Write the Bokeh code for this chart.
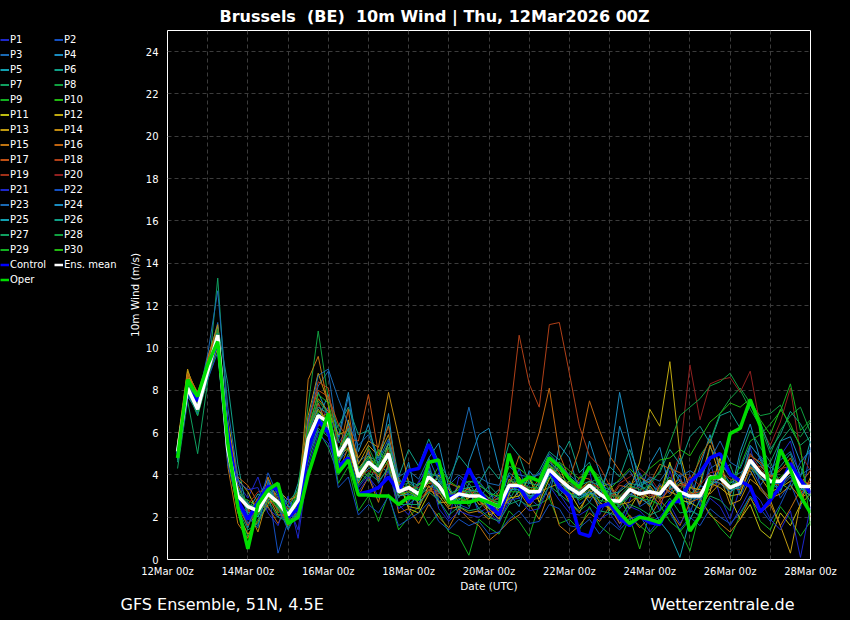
from bokeh.plotting import figure
from bokeh.models import FixedTicker, Legend, LegendItem, Range1d, CustomJS, Label
from bokeh.layouts import row, column
from bokeh.embed import file_html
from bokeh.resources import INLINE
from bokeh.io import curdoc

# ---------------- data ----------------
NBSP = "\u00a0"
title_text = "Brussels " + NBSP + "(BE) " + NBSP + "10m Wind | Thu, 12Mar2026 00Z"
left_note = "GFS Ensemble, 51N, 4.5E"
right_note = "Wetterzentrale.de"
x_tick_days = [0, 2, 4, 6, 8, 10, 12, 14, 16]
x_tick_labels = ["12Mar 00z", "14Mar 00z", "16Mar 00z", "18Mar 00z", "20Mar 00z",
                 "22Mar 00z", "24Mar 00z", "26Mar 00z", "28Mar 00z"]
y_ticks = [0, 2, 4, 6, 8, 10, 12, 14, 16, 18, 20, 22, 24]
step_hours = 6
n_steps = 64
lead_days = [(i + 1) * step_hours / 24 for i in range(n_steps)]

p01 = [5.0,8.2,7.4,8.7,10.1,6.1,3.6,2.9, 3.9,2.4,2.0,2.6,1.4,4.8,6.3,7.2, 5.5,6.2,3.4,4.0,2.9,4.5,2.6,2.1, 3.6,4.6,2.8,1.9,3.9,3.4,2.2,2.5, 1.8,3.0,4.3,2.9,2.5,4.9,3.1,2.4, 3.7,4.2,2.1,3.1,1.7,2.8,4.1,3.4, 2.3,4.2,2.7,4.0,2.5,4.6,3.0,1.9, 3.4,5.3,3.5,2.6,4.9,5.6,3.8,3.1]
p02 = [5.3,7.9,6.9,9.1,10.8,5.0,2.6,2.0, 1.6,3.4,0.3,1.8,2.5,5.9,7.4,6.0, 4.6,5.2,4.1,5.1,3.8,5.6,3.9,3.0, 2.7,3.2,4.1,3.0,2.6,2.4,3.7,3.1, 2.8,4.0,2.9,3.6,4.1,3.5,4.6,3.9, 2.6,3.0,3.8,2.4,3.3,3.7,2.5,2.8, 3.6,3.1,4.0,2.2,3.5,3.3,4.4,4.1, 3.0,4.0,4.9,4.3,2.9,3.6,2.4,5.3]
p03 = [4.9,8.4,7.6,9.3,11.2,5.6,3.2,2.7, 2.1,3.6,2.9,1.7,3.1,6.4,8.2,8.9, 5.6,7.7,4.6,5.0,3.6,4.4,2.9,3.7, 3.3,4.2,3.1,3.4,5.2,7.2,5.1,3.3, 2.2,3.4,3.8,2.7,3.5,4.0,3.3,2.9, 3.4,2.7,3.5,3.3,2.4,3.0,3.6,3.8, 2.9,3.3,3.7,3.5,2.8,4.3,4.6,3.9, 4.1,4.4,3.5,4.2,3.4,3.9,3.0,3.6]
p04 = [5.2,7.7,7.0,8.8,10.4,4.6,2.8,1.5, 2.9,3.8,2.4,2.9,1.9,5.2,6.6,7.8, 5.8,7.9,5.1,6.4,4.4,6.9,3.2,4.6, 2.4,4.8,5.5,3.4,2.1,4.6,5.9,6.2, 4.3,3.1,2.5,4.2,3.6,2.9,5.4,4.8, 3.2,5.6,4.1,2.8,6.3,4.9,3.1,4.5, 5.3,3.3,4.8,2.6,4.4,5.9,4.2,3.0, 5.1,6.4,4.7,3.9,5.6,5.8,4.6,5.2]
p05 = [4.7,8.3,7.3,9.0,10.9,5.4,3.3,2.3, 3.1,2.8,3.4,2.2,3.6,6.0,7.9,6.8, 4.4,6.5,3.8,4.3,4.5,4.1,3.6,2.6, 3.0,3.4,3.7,3.1,2.8,3.2,2.4,2.9, 3.3,2.6,3.3,2.8,3.7,4.4,3.9,3.0, 2.9,3.2,2.6,3.4,2.9,3.4,2.7,3.6, 3.2,3.8,2.9,2.6,3.2,3.5,4.3,3.6, 3.9,5.0,4.5,3.8,3.3,4.5,3.9,5.6]
p06 = [4.6,8.6,7.7,9.2,11.0,8.3,4.5,2.1, 2.6,3.0,2.6,1.5,2.2,5.5,6.9,5.8, 6.3,7.2,5.9,6.1,4.8,6.4,3.9,5.2, 4.4,5.7,4.6,3.8,4.9,4.3,3.6,4.4, 3.8,5.5,4.9,3.6,4.2,5.1,4.7,5.6, 4.1,4.6,3.2,4.4,3.9,5.2,4.0,3.3, 2.9,4.5,3.7,3.1,3.4,5.3,4.6,4.0, 3.6,5.4,4.8,3.9,4.4,5.0,3.6,2.7]
p07 = [4.3,7.5,5.0,8.4,13.3,6.4,2.3,1.1, 1.9,2.5,3.0,2.7,3.3,4.6,6.1,5.3, 4.0,5.0,4.2,3.7,4.6,4.8,3.3,2.8, 3.1,4.5,2.6,3.5,2.4,3.6,2.9,3.5, 3.0,2.8,3.6,3.1,3.4,4.3,3.0,3.6, 3.3,3.6,3.9,2.1,2.6,3.2,3.8,2.6, 3.4,3.5,2.6,3.6,3.0,3.7,4.1,4.5, 3.1,4.3,3.9,4.6,3.6,3.3,4.4,3.0]
p08 = [5.0,8.5,7.6,9.0,10.7,5.7,3.1,2.5, 2.0,3.3,2.5,2.0,3.4,7.3,10.8,7.6, 6.2,5.4,3.7,5.3,4.3,4.9,3.5,3.3, 2.8,3.7,3.8,3.0,3.4,2.5,3.3,2.9, 2.6,3.7,3.9,3.3,3.0,4.5,4.0,3.1, 3.0,3.3,3.3,3.2,2.5,3.5,3.0,3.4, 3.0,3.6,3.5,3.3,4.9,5.6,6.9,7.6, 8.1,7.4,6.8,6.9,7.3,6.2,5.8,6.5]
p09 = [4.9,8.0,6.8,8.5,10.0,4.8,2.4,1.9, 2.8,3.5,2.2,2.5,2.6,5.3,6.5,6.3, 3.6,4.4,2.3,3.0,1.8,3.1,1.4,2.0, 2.5,1.6,2.2,1.3,1.1,0.2,1.9,1.5, 1.2,2.3,1.8,1.1,2.6,2.9,1.7,1.9, 1.4,2.5,1.6,1.2,0.9,2.0,1.6,1.2, 1.7,2.4,1.3,1.9,2.8,2.2,1.5,1.0, 2.1,3.0,1.8,1.4,2.5,1.9,1.1,1.8]
p10 = [5.1,8.1,7.2,9.4,10.5,5.1,3.0,2.8, 2.5,2.9,3.1,2.3,2.9,5.8,7.0,6.6, 4.9,6.0,4.0,4.8,4.4,5.1,3.3,3.5, 3.2,4.0,3.4,2.9,3.2,3.1,3.1,2.8, 2.7,3.6,3.6,3.3,3.3,4.4,3.9,3.5, 3.1,3.4,3.2,2.7,2.9,2.0,0.5,2.2, 3.3,3.9,3.1,3.0,3.1,3.9,4.0,3.5, 3.7,4.7,4.2,3.6,3.9,4.3,3.5,3.4]
p11 = [5.4,8.8,7.5,9.2,10.3,6.6,3.8,3.2, 2.2,2.7,2.8,1.9,2.7,5.6,6.7,6.9, 5.0,5.6,4.3,4.9,4.1,5.5,3.8,2.4, 2.2,3.1,4.0,3.3,2.7,2.9,3.5,2.1, 2.3,2.9,3.0,3.9,2.7,3.8,4.4,3.2, 2.4,3.1,3.6,2.3,3.0,2.4,3.2,2.9, 3.1,4.6,2.8,2.7,2.4,3.2,4.8,2.9, 1.9,2.6,1.4,1.0,2.2,1.6,2.6,3.1]
p12 = [5.2,8.9,7.8,9.1,10.6,5.3,2.9,2.6, 2.4,3.2,2.6,2.4,2.3,6.1,7.1,6.4, 4.8,5.3,3.6,4.5,3.9,4.7,3.0,3.2, 2.9,4.1,3.2,2.5,3.0,3.4,2.6,2.7, 2.2,3.8,3.4,3.1,3.6,4.2,3.4,3.7, 3.5,2.9,3.4,3.6,2.7,3.3,4.6,7.1, 6.3,9.35,5.0,3.2,2.9,3.6,3.4,3.0, 3.1,4.4,3.9,3.2,3.4,3.7,3.8,3.5]
p13 = [5.5,9.0,7.4,8.8,10.0,4.9,2.2,1.2, 1.8,2.6,3.3,2.8,3.0,6.8,8.8,7.4, 4.5,6.6,4.5,5.4,4.9,5.9,3.6,2.5, 2.4,3.5,2.7,2.7,3.5,2.7,2.8,2.4, 1.9,3.1,3.9,2.8,2.9,4.5,3.8,3.0, 3.3,3.7,2.7,2.4,3.2,3.6,2.6,3.5, 2.9,3.0,3.6,3.4,3.3,3.1,3.6,3.3, 3.9,4.2,3.3,2.8,1.6,0.3,2.7,3.9]
p14 = [5.3,8.6,7.1,9.5,11.1,5.9,3.5,2.4, 1.3,3.0,2.1,2.1,2.0,5.7,7.6,7.0, 5.9,6.1,4.8,5.6,5.3,7.9,5.8,3.6, 2.6,3.3,3.0,2.4,2.5,2.2,2.3,1.9, 2.6,2.7,3.2,2.5,3.2,3.4,3.6,2.7, 2.2,3.3,2.4,2.9,2.6,2.7,3.1,2.5, 3.5,3.2,3.0,2.8,3.6,5.4,3.9,2.6, 2.8,3.8,3.4,2.9,3.1,3.5,2.9,3.2]
p15 = [5.0,8.7,7.0,9.6,10.8,4.4,1.7,1.0, 2.3,3.9,2.7,1.6,2.4,8.5,9.6,7.3, 4.1,5.3,3.0,3.9,2.7,4.6,2.2,2.4, 1.7,2.6,2.0,1.5,2.4,1.9,1.6,0.9, 1.3,1.8,2.1,2.6,1.9,3.2,1.6,1.2, 1.6,2.2,1.8,2.5,1.7,2.1,1.5,2.0, 2.8,2.3,1.6,2.7,2.9,2.1,1.7,1.3, 1.9,2.9,2.2,2.6,1.6,2.4,3.3,2.0]
p16 = [5.4,8.8,7.9,9.3,10.9,6.3,3.9,3.5, 2.7,2.5,1.7,2.6,3.2,6.2,7.4,6.2, 4.9,7.1,4.0,5.2,3.7,5.3,3.2,3.3, 3.2,3.6,3.5,2.9,3.1,3.0,2.9,2.7, 2.9,3.5,4.9,4.5,6.0,8.1,5.0,3.8, 5.2,7.5,6.1,4.9,4.2,3.5,3.9,3.6, 4.5,4.3,4.1,3.7,4.7,5.7,4.4,3.1, 3.8,4.9,4.6,3.9,4.2,4.8,3.6,4.2]
p17 = [5.1,8.3,7.3,8.9,10.5,5.5,2.5,1.6, 2.6,3.1,2.3,2.2,2.9,6.6,8.0,7.7, 6.4,5.7,5.6,7.8,5.0,6.3,3.7,3.2, 3.6,3.4,3.2,3.6,3.4,3.3,2.8,2.2, 2.4,3.3,3.7,3.2,3.8,4.7,4.1,2.8, 3.9,3.8,3.3,2.8,3.5,3.4,2.7,3.2, 2.6,3.5,3.8,3.1,3.2,3.3,3.8,3.4, 3.3,4.3,4.4,4.0,3.7,4.1,3.1,3.7]
p18 = [5.2,8.4,7.2,8.7,10.4,5.4,2.7,2.2, 2.9,2.8,2.4,1.8,2.7,6.3,8.4,8.1, 5.1,6.3,4.1,4.5,4.2,5.0,3.4,3.0, 2.8,3.3,3.1,3.2,2.9,2.7,3.0,2.6, 3.2,6.5,10.6,8.3,7.2,11.1,11.2,8.8, 6.3,4.9,4.4,3.5,2.6,3.1,2.9,3.3, 2.8,3.3,3.5,3.6,2.8,3.8,3.6,3.4, 3.5,4.6,4.0,3.6,3.5,4.0,3.5,3.4]
p19 = [5.0,8.0,7.0,8.6,10.2,5.0,3.1,2.6, 3.2,3.3,2.9,2.4,2.6,5.4,6.4,6.0, 4.6,5.5,3.9,4.2,4.0,4.6,3.0,3.4, 3.4,3.7,3.4,2.6,3.1,3.2,3.2,2.9, 2.5,3.6,3.5,3.4,3.4,4.1,3.7,3.6, 3.3,3.6,3.4,3.0,3.0,3.3,3.4,3.0, 3.2,3.8,3.3,3.9,3.5,4.1,4.2,3.8, 3.7,5.0,4.3,3.8,4.3,4.4,3.7,3.6]
p20 = [5.3,8.2,7.1,9.0,10.7,5.2,3.0,2.3, 2.2,3.2,2.7,2.0,2.5,5.9,7.3,6.7, 4.8,5.8,3.8,4.6,4.2,5.1,3.1,3.4, 3.1,3.9,3.5,2.8,3.1,3.0,3.1,2.8, 2.6,3.4,3.6,3.2,3.3,4.3,3.7,3.4, 3.0,3.5,3.0,2.9,3.6,3.9,4.3,3.9, 3.2,3.6,5.0,9.2,6.6,8.3,8.5,8.6, 7.9,8.9,6.3,5.4,6.5,8.1,5.0,4.2]
p21 = [5.1,8.0,7.3,8.8,10.3,5.9,3.7,3.3, 3.4,2.2,1.6,3.0,1.0,4.4,5.9,5.5, 4.3,4.8,3.2,3.9,3.3,4.2,2.4,2.7, 3.7,4.3,2.4,1.8,2.3,2.1,2.0,2.3, 1.7,2.8,2.9,2.3,2.4,3.5,2.8,2.2, 2.1,2.4,1.9,2.2,1.5,2.5,2.3,1.8, 2.0,2.6,1.7,2.4,2.0,2.9,2.5,1.6, 2.4,3.3,2.8,1.9,1.4,2.3,0.1,2.5]
p22 = [4.8,7.8,6.9,8.5,9.8,4.5,2.6,1.7, 2.4,4.1,3.0,2.0,2.1,5.0,6.0,6.1, 3.4,3.9,2.1,2.6,2.2,3.0,1.6,1.9, 2.2,2.7,1.8,1.4,1.9,1.6,1.8,1.2, 1.3,1.9,2.3,1.7,1.8,2.6,2.4,1.6, 1.5,1.9,1.2,1.8,1.4,1.9,2.1,1.3, 1.9,2.2,1.4,2.0,1.6,2.4,2.0,1.7, 2.2,3.0,2.4,1.8,2.6,3.6,4.6,5.1]
p23 = [4.9,8.3,7.5,9.7,12.7,7.2,3.9,2.0, 1.5,3.7,2.5,1.4,2.3,6.5,8.7,9.0, 7.6,6.4,5.4,5.9,4.7,5.7,3.9,4.2, 3.8,4.8,3.7,3.5,4.0,3.6,3.9,3.6, 3.5,4.4,4.0,3.9,4.0,5.0,4.5,4.0, 3.6,4.3,3.7,3.5,3.7,4.2,3.4,3.9, 3.7,4.4,3.9,4.2,3.9,4.7,5.6,4.6, 4.3,5.4,4.8,4.3,4.7,5.1,4.0,4.3]
p24 = [5.0,8.1,7.1,8.8,10.5,5.3,3.1,2.4, 2.7,3.1,2.6,1.9,2.9,5.7,6.9,6.4, 4.8,5.8,3.9,4.6,4.1,4.9,3.3,3.3, 3.2,3.9,3.4,2.7,3.0,3.0,3.0,2.6, 2.4,3.3,3.3,3.0,3.1,4.1,3.6,3.3, 3.0,3.2,2.9,4.5,7.9,5.6,3.5,3.2, 3.0,3.6,3.0,2.9,2.9,3.7,3.6,3.2, 3.5,4.5,3.9,3.6,3.6,4.0,3.3,3.3]
p25 = [5.2,8.0,7.0,9.0,10.6,5.0,2.9,2.7, 2.0,3.0,3.5,2.5,2.4,5.4,6.7,6.2, 4.5,5.6,3.7,4.7,4.3,4.8,3.0,3.1, 2.9,4.2,3.2,2.9,2.8,3.3,3.2,2.4, 2.7,3.2,3.5,3.0,3.0,4.0,3.9,3.1, 2.9,3.1,3.2,2.8,2.6,3.1,2.9,2.6, 1.8,1.2,0.1,1.9,2.8,3.5,3.8,3.3, 3.4,4.6,3.8,3.7,3.2,4.4,3.4,3.0]
p26 = [5.0,8.4,7.5,9.1,10.7,5.6,3.3,2.2, 2.3,3.4,2.6,2.2,3.0,6.0,7.2,6.9, 5.1,6.2,4.2,4.9,4.6,5.5,3.7,3.7, 3.5,4.1,3.9,3.1,3.3,3.4,3.5,3.2, 2.9,4.1,3.7,3.6,3.5,4.6,4.2,3.9, 3.5,3.7,3.5,3.1,3.2,3.6,3.5,3.7, 4.1,5.2,4.5,5.8,6.3,5.5,6.8,7.0, 6.2,7.3,6.5,5.2,5.9,7.0,6.4,5.5]
p27 = [4.7,7.9,6.8,8.6,10.2,5.3,2.4,1.4, 1.7,2.8,2.0,1.8,2.2,5.1,6.2,5.8, 4.1,4.9,3.5,4.1,3.7,4.3,2.6,2.6, 2.6,3.2,2.8,2.1,2.5,2.3,2.4,2.0, 1.8,2.6,2.8,2.5,2.6,3.5,3.1,2.7, 2.3,2.7,2.3,2.2,2.0,2.6,2.4,2.1, 2.3,2.9,2.2,2.3,2.1,3.0,2.8,2.3, 4.8,6.1,5.3,4.6,5.6,6.2,5.4,5.8]
p28 = [5.3,8.3,7.4,9.0,10.9,5.8,3.4,2.6, 2.5,3.2,2.8,2.3,2.9,6.0,7.5,6.9, 5.2,6.0,4.1,4.8,4.5,5.3,3.5,3.6, 3.3,4.0,3.6,3.0,3.3,3.2,3.3,2.9, 2.7,3.7,3.7,3.4,3.4,4.5,4.0,3.6, 3.2,3.6,3.3,3.0,3.0,3.5,3.3,3.5, 4.2,5.5,6.8,7.2,7.6,8.2,8.4,8.8, 8.0,7.1,6.3,5.0,6.1,6.8,7.2,6.0]
p29 = [4.9,8.2,7.0,8.9,10.4,5.1,2.8,2.0, 2.1,3.0,2.4,2.0,2.6,5.6,6.6,6.5, 4.7,5.7,3.8,4.5,4.0,4.9,3.1,3.2, 3.0,3.8,3.3,2.6,2.9,2.8,2.8,2.5, 2.3,3.2,3.2,2.9,3.0,3.9,3.5,3.2, 2.8,3.1,2.8,2.7,2.6,3.0,2.9,2.8, 2.6,1.8,1.4,0.4,2.3,3.6,4.0,3.6, 4.4,5.6,5.9,6.4,7.0,8.3,6.1,6.6]
p30 = [5.1,8.0,7.3,8.7,10.3,5.4,3.2,2.4, 2.6,3.3,2.5,2.1,3.2,6.2,7.8,7.4, 5.6,5.1,4.4,3.9,5.2,4.4,3.4,2.8, 3.6,3.6,4.4,3.7,3.4,3.7,3.6,3.1, 3.0,4.4,4.3,3.9,3.1,4.2,4.6,4.2, 3.8,4.4,3.9,3.3,3.8,4.3,3.8,4.3, 4.7,4.8,5.2,4.9,5.7,6.5,6.9,7.4, 7.2,7.6,6.6,5.9,7.1,6.4,5.3,1.6]

control = [5.0,8.0,7.5,9.0,10.3,6.0,2.8,1.9, 2.7,3.45,3.3,2.0,2.4,5.2,6.6,6.0, 4.4,4.8,3.1,3.2,3.4,3.9,3.2,4.2, 4.3,5.45,4.4,2.95,3.05,4.3,3.3,2.6, 2.1,3.5,3.45,2.7,3.15,4.25,3.45,3.0, 1.25,1.1,2.5,2.65,1.95,1.6,2.05,1.75, 1.65,2.7,2.75,3.65,4.1,4.8,5.0,4.05, 3.7,3.45,2.25,2.8,3.45,4.55,3.75,3.15]
ens_mean = [5.1,8.1,7.1,8.9,10.6,5.2,3.0,2.5, 2.3,3.1,2.7,2.1,2.8,5.7,6.8,6.5, 4.9,5.7,3.9,4.6,4.2,5.0,3.2,3.4, 3.1,3.9,3.5,2.8,3.1,3.0,3.0,2.7, 2.5,3.5,3.5,3.2,3.2,4.25,3.8,3.4, 3.1,3.5,3.1,2.8,2.75,3.3,3.1,3.2, 3.1,3.7,3.2,3.0,3.0,3.9,3.85,3.4, 3.6,4.7,4.1,3.7,3.7,4.25,3.45,3.45]
oper = [4.8,8.5,7.7,9.2,10.3,5.5,2.5,0.5, 2.6,3.3,3.6,1.7,2.0,4.0,5.5,6.9, 4.1,4.7,3.05,3.05,3.0,3.0,2.6,2.95, 2.85,4.6,4.7,2.7,2.7,2.7,2.85,2.7, 2.5,5.0,3.6,3.9,3.7,4.8,4.4,3.8, 3.4,4.4,3.6,2.8,2.2,1.7,2.0,1.9, 1.75,2.5,3.15,1.35,2.05,3.85,3.9,5.95, 6.2,7.55,6.3,2.9,5.2,4.25,3.0,2.2]

members = [p01, p02, p03, p04, p05, p06, p07, p08, p09, p10,
           p11, p12, p13, p14, p15, p16, p17, p18, p19, p20,
           p21, p22, p23, p24, p25, p26, p27, p28, p29, p30]
member_labels = ["P%d" % (k + 1) for k in range(30)]
base_colors = ["#1e28cc", "#1450c0", "#1a6ab4", "#1a8cc0", "#12a0b0",
               "#10a087", "#10a060", "#10a040", "#12b020", "#22b810",
               "#bdbd10", "#c0aa10", "#c09a10", "#c08a10", "#c07410",
               "#c06410", "#c05014", "#b04018", "#a03018", "#902020"]
member_colors = base_colors + base_colors[:10]
special = [("Control", control, "#0000ff"), ("Ens. mean", ens_mean, "white"), ("Oper", oper, "#00dd00")]

# ---------------- layout geometry ----------------
FONT = "DejaVu Sans"
PAGE_W, PAGE_H = 850, 620
LEG_W = 125                 # legend strip on the left
MAIN_H = 594                # main chart height (footer below)
FOOT_H = PAGE_H - MAIN_H
FRAME_L, FRAME_R, FRAME_T, FRAME_B = 163, 810, 30, 560
X0, X1 = 0, 16

# ---------------- main chart ----------------
fig = figure(width=PAGE_W - LEG_W, height=MAIN_H, output_backend="svg",
             toolbar_location=None, tools="",
             x_range=Range1d(X0, X1), y_range=Range1d(0, 25),
             min_border_left=FRAME_L - LEG_W, min_border_right=PAGE_W - FRAME_R,
             min_border_top=FRAME_T, min_border_bottom=MAIN_H - FRAME_B,
             background_fill_color="black", border_fill_color="black",
             outline_line_color="white", outline_line_width=1)

fig.title.text = title_text
fig.title.align = "left"
fig.title.offset = 52
fig.title.standoff = 9
fig.title.text_color = "white"
fig.title.text_font = FONT
fig.title.text_font_size = "16px"
fig.title.text_font_style = "bold"

fig.xgrid.ticker = FixedTicker(ticks=list(range(0, 17)))
fig.ygrid.ticker = FixedTicker(ticks=y_ticks)
for g in (fig.xgrid, fig.ygrid):
    g.grid_line_color = "#3c3c3c"
    g.grid_line_dash = "4 3"
    g.grid_line_width = 1

fig.xaxis.ticker = FixedTicker(ticks=x_tick_days)
fig.xaxis.major_label_overrides = {d: lab for d, lab in zip(x_tick_days, x_tick_labels)}
fig.yaxis.ticker = FixedTicker(ticks=y_ticks)
fig.xaxis.axis_label = "Date (UTC)"
fig.yaxis.axis_label = "10m Wind (m/s)"
for ax in (fig.xaxis, fig.yaxis):
    ax.axis_line_color = None
    ax.major_tick_line_color = None
    ax.minor_tick_line_color = None
    ax.major_tick_out = 0
    ax.major_tick_in = 0
    ax.major_label_text_color = "white"
    ax.major_label_text_font = FONT
    ax.major_label_text_font_size = "10px"
    ax.axis_label_text_color = "white"
    ax.axis_label_text_font = FONT
    ax.axis_label_text_font_size = "10.5px"
    ax.axis_label_text_font_style = "normal"
fig.xaxis.major_label_standoff = 6
fig.xaxis.axis_label_standoff = 0
fig.yaxis.major_label_standoff = 9
fig.yaxis.axis_label_standoff = 2

for vals, col in zip(members, member_colors):
    fig.line(lead_days, vals, line_color=col, line_width=1)
for lab, vals, col in special:
    fig.line(lead_days, vals, line_color=col, line_width=3.5)

# ---------------- legend strip ----------------
# proxy renderers: a single point of each series (draws nothing, styles the legend glyph)
leg_fig = figure(width=LEG_W, height=MAIN_H, output_backend="svg", toolbar_location=None,
                 tools="", x_axis_type=None, y_axis_type=None,
                 x_range=Range1d(-2, -1), y_range=Range1d(-2, -1),
                 min_border=0, outline_line_color=None,
                 background_fill_color="black", border_fill_color="black")
leg_items = []
for vals, lab, col in zip(members, member_labels, member_colors):
    r = leg_fig.line(lead_days[:1], vals[:1], line_color=col, line_width=2)
    leg_items.append(LegendItem(label=lab, renderers=[r]))
for lab, vals, col in special:
    r = leg_fig.line(lead_days[:1], vals[:1], line_color=col, line_width=2.5)
    leg_items.append(LegendItem(label=lab, renderers=[r]))
legend = Legend(items=leg_items, location=(0, 272), orientation="horizontal", ncols=2,
                label_text_font=FONT, label_text_font_size="10px", label_text_color="white",
                glyph_width=9, glyph_height=15, label_height=15, label_standoff=1,
                label_width=44, spacing=0, padding=0, margin=0,
                border_line_alpha=0, background_fill_alpha=0)
leg_fig.add_layout(legend, "center")

# ---------------- footer ----------------
foot = figure(width=PAGE_W, height=FOOT_H, output_backend="svg", toolbar_location=None,
              tools="", x_axis_type=None, y_axis_type=None,
              x_range=Range1d(0, PAGE_W), y_range=Range1d(0, FOOT_H),
              min_border=0, outline_line_color=None,
              background_fill_color="black", border_fill_color="black")
note_y = FOOT_H - 10
foot.add_layout(Label(x=120, y=note_y, text=left_note, text_align="left",
                      text_baseline="middle", text_color="white",
                      text_font=FONT, text_font_size="16px"))
foot.add_layout(Label(x=650, y=note_y, text=right_note, text_align="left",
                      text_baseline="middle", text_color="white",
                      text_font=FONT, text_font_size="16px"))

p = column(row(leg_fig, fig, spacing=0), foot, spacing=0)

doc = curdoc()
doc.add_root(p)
doc.js_on_event("document_ready", CustomJS(code="document.body.style.background = 'black';"))

open("out.html", "w").write(file_html(p, INLINE))
